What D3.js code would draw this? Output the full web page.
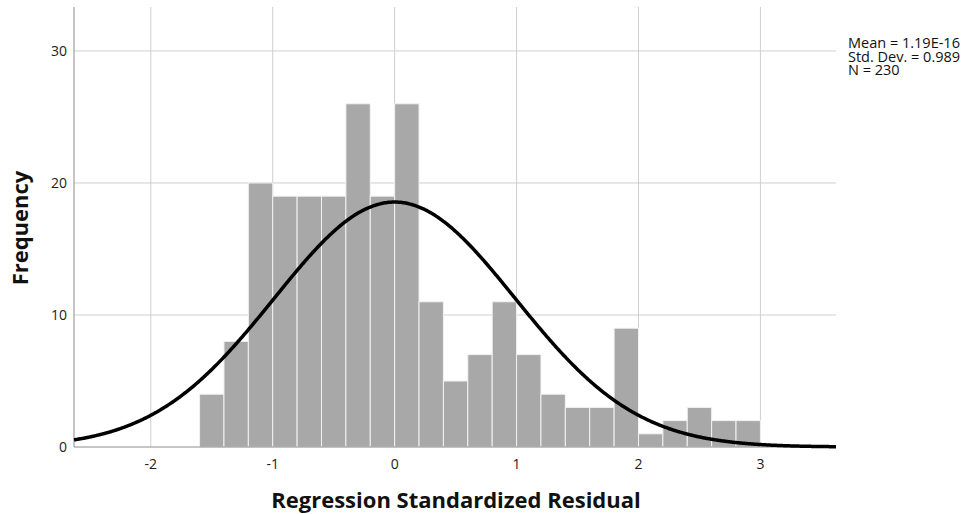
<!DOCTYPE html>
<html>
<head>
<meta charset="utf-8">
<script src="https://cdn.jsdelivr.net/npm/d3@7"></script>
<style>
  body { margin: 0; background: #fff; }
  text { font-family: "Open Sans", "DejaVu Sans", sans-serif; }
</style>
</head>
<body>
<script>
var w = 972;
var h = 514;

// histogram bins (lower edges) and counts
var binStart = [-1.6,-1.4,-1.2,-1.0,-0.8,-0.6,-0.4,-0.2,0.0,0.2,0.4,0.6,0.8,1.0,1.2,1.4,1.6,1.8,2.0,2.2,2.4,2.6,2.8];
var counts   = [4,8,20,19,19,19,26,19,26,11,5,7,11,7,4,3,3,9,1,2,3,2,2];
var binWidth = 0.2;

var xTicks = [-2,-1,0,1,2,3];
var yTicks = [0,10,20,30];

var statLines = ["Mean = 1.19E-16", "Std. Dev. = 0.989", "N = 230"];
var mean = 0, sd = 0.989, n = 230;

// plot area
var lp = 74, rp = 836, up = 7, bp = 447;

var x = d3.scaleLinear().domain([-2.63, 3.62]).range([lp, rp]);
var y = d3.scaleLinear().domain([0, 33.33]).range([bp, up]);

var svg = d3.select("body").append("svg")
  .attr("width", w).attr("height", h);

// grid lines
var grid = svg.append("g").attr("id", "grid");
grid.selectAll("line.vg").data(xTicks).enter().append("line")
  .attr("class", "vg")
  .attr("x1", function(d){ return x(d); })
  .attr("x2", function(d){ return x(d); })
  .attr("y1", up).attr("y2", bp)
  .attr("stroke", "#cfcfcf").attr("stroke-width", 1);
grid.selectAll("line.hg").data(yTicks.filter(function(d){ return d > 0; })).enter().append("line")
  .attr("class", "hg")
  .attr("x1", lp).attr("x2", rp)
  .attr("y1", function(d){ return y(d); })
  .attr("y2", function(d){ return y(d); })
  .attr("stroke", "#cfcfcf").attr("stroke-width", 1);

// bars
svg.append("g").attr("id", "bars").selectAll("rect")
  .data(binStart).enter().append("rect")
  .attr("x", function(d){ return x(d); })
  .attr("y", function(d, i){ return y(counts[i]); })
  .attr("width", function(d){ return x(d + binWidth) - x(d); })
  .attr("height", function(d, i){ return y(0) - y(counts[i]); })
  .attr("fill", "#a8a8a8")
  .attr("stroke", "#f2f2f2")
  .attr("stroke-width", 1);

// axis lines
svg.append("line")
  .attr("x1", lp).attr("x2", lp).attr("y1", up).attr("y2", bp)
  .attr("stroke", "#8c8c8c").attr("stroke-width", 1);
svg.append("line")
  .attr("x1", lp).attr("x2", rp).attr("y1", bp).attr("y2", bp)
  .attr("stroke", "#8c8c8c").attr("stroke-width", 1);

// normal curve
var curveX = d3.range(-2.63, 3.621, 0.01);
var scaleN = n * binWidth;
var line = d3.line()
  .x(function(d){ return x(d); })
  .y(function(d){
    var z = (d - mean) / sd;
    return y(scaleN * Math.exp(-0.5 * z * z) / (sd * Math.sqrt(2 * Math.PI)));
  })
  .curve(d3.curveBasis);
svg.append("path").datum(curveX)
  .attr("d", line)
  .attr("fill", "none")
  .attr("stroke", "#000")
  .attr("stroke-width", 3.5);

// tick labels
svg.append("g").selectAll("text").data(xTicks).enter().append("text")
  .attr("x", function(d){ return x(d); })
  .attr("y", 469)
  .attr("text-anchor", "middle")
  .attr("font-size", 14)
  .attr("fill", "#222")
  .text(function(d){ return d; });

svg.append("g").selectAll("text").data(yTicks).enter().append("text")
  .attr("x", 67)
  .attr("y", function(d){ return y(d) + 5; })
  .attr("text-anchor", "end")
  .attr("font-size", 14)
  .attr("fill", "#222")
  .text(function(d){ return d; });

// axis titles
svg.append("text")
  .attr("x", 456).attr("y", 508)
  .attr("text-anchor", "middle")
  .attr("font-size", 22).attr("font-weight", "bold")
  .attr("fill", "#111")
  .text("Regression Standardized Residual");

svg.append("text")
  .attr("transform", "translate(28,228) rotate(-90)")
  .attr("text-anchor", "middle")
  .attr("font-size", 22).attr("font-weight", "bold")
  .attr("fill", "#111")
  .text("Frequency");

// stats box
svg.append("g").selectAll("text").data(statLines).enter().append("text")
  .attr("x", 848)
  .attr("y", function(d, i){ return 48 + i * 13.5; })
  .attr("font-size", 14.5)
  .attr("fill", "#111")
  .text(function(d){ return d; });
</script>
</body>
</html>
